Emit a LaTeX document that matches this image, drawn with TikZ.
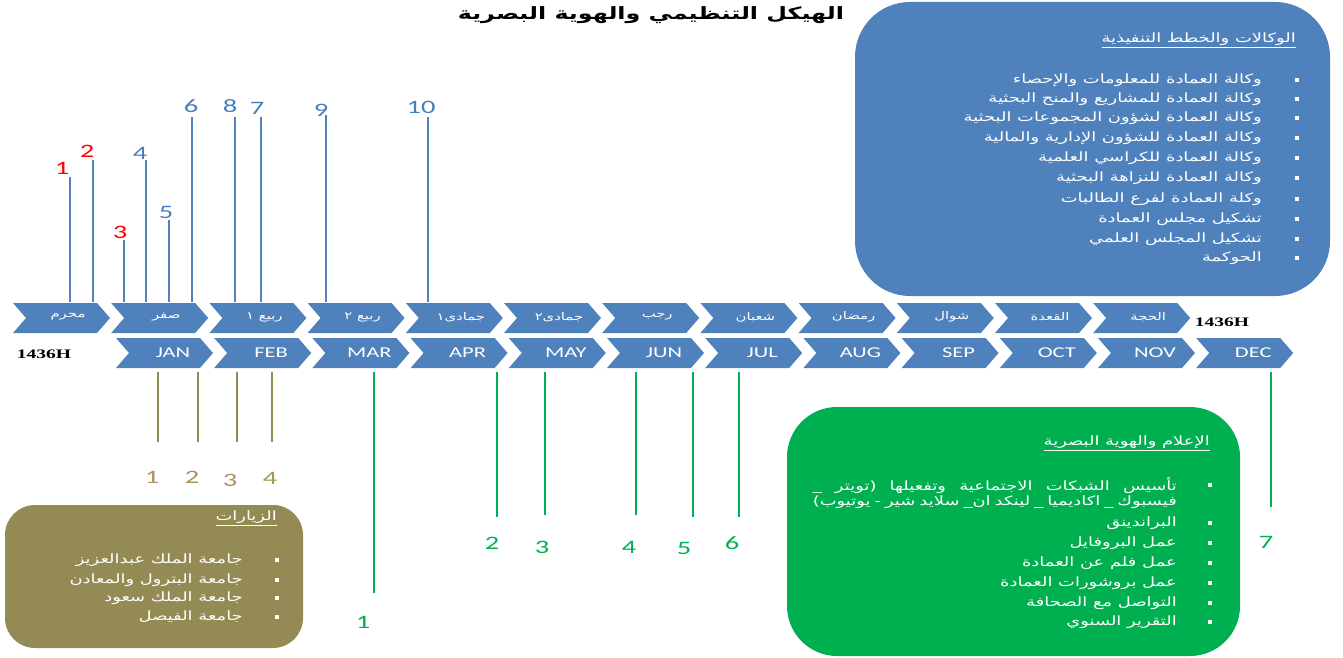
\documentclass[tikz,border=0pt]{standalone}
\usepackage{fontspec}
\setmainfont{Carlito}[FakeStretch=1.5]
\newfontfamily\ar[Script=Arabic,FakeStretch=1.4]{DejaVu Sans}
\newfontfamily\serifb{Liberation Serif}[FakeStretch=1.5]
\TeXXeTstate=1
\newcommand\AR[1]{{\ar\beginR #1\endR}}
\definecolor{chevblue}{HTML}{4F81BD}
\definecolor{numblue}{HTML}{4A7EBB}
\definecolor{olive}{HTML}{948A54}
\definecolor{olivetxt}{HTML}{A8935A}
\definecolor{grn}{HTML}{00B050}
\tikzset{
  chevfill/.style={fill=chevblue},
  hlabel/.style={text=white,font=\ar\fontsize{10.6}{12}\selectfont,inner sep=0pt},
  glabel/.style={text=white,font=\fontsize{15}{16}\selectfont,inner sep=0pt},
  num/.style={font=\fontsize{19}{20}\selectfont,inner sep=0pt},
  bluel/.style={draw=chevblue,line width=2pt},
  olivel/.style={draw=olive,line width=2pt},
  grnl/.style={draw=grn,line width=2pt},
  item/.style={text=white,anchor=east,inner sep=0pt,font=\ar\fontsize{12.8}{14}\selectfont},
  bul/.style={fill=white,minimum size=3.5pt,inner sep=0pt},
  yearlbl/.style={font=\serifb\bfseries\fontsize{13}{14}\selectfont,inner sep=0pt},
}
\begin{document}
\begin{tikzpicture}[x=1pt,y=-1pt]
\useasboundingbox (0,0) rectangle (1343,658);
% title
\node[font=\ar\bfseries\fontsize{17}{20}\selectfont,inner sep=0pt] (title) at (651,15) {\AR{الهيكل التنظيمي والهوية البصرية}};

% Hijri row
\foreach \t [count=\i from 0] in {محرم,صفر,ربيع ١,ربيع ٢,جمادى١,جمادى٢,رجب,شعبان,رمضان,شوال,القعدة,الحجة}{
  \pgfmathsetmacro\xx{13+98.2*\i}
  \fill[chevfill] (\xx,303) -- ++(84,0) -- ++(13,15) -- ++(-13,15) -- ++(-84,0) -- ++(13,-15) -- cycle;
  \node[hlabel] (h\i) at (\xx+55,317) {\AR{\t}};
}
% Gregorian row
\foreach \t [count=\i from 0] in {JAN,FEB,MAR,APR,MAY,JUN,JUL,AUG,SEP,OCT,NOV,DEC}{
  \pgfmathsetmacro\xx{116+98.2*\i}
  \fill[chevfill] (\xx,338) -- ++(84,0) -- ++(13,15) -- ++(-13,15) -- ++(-84,0) -- ++(13,-15) -- cycle;
  \node[glabel] (g\i) at (\xx+57,353) {\t};
}
\node[yearlbl] (yl) at (44,354) {1436H};
\node[yearlbl] (yr) at (1222,322) {1436H};

% top numbered lines
\foreach \n/\lx/\ty/\nx/\ny/\c in {1/70/177/62/168/red,2/93/160/87/151/red,3/124/240/120/232/red,4/146/160/140/153/numblue,5/169/220/166/212/numblue,6/192/117/191/106/numblue,8/235/117/230/106/numblue,7/261/117/257/108/numblue,9/326/115/321/110/numblue,10/428/117/421/107/numblue}{
  \coordinate (tt\n) at (\lx,\ty);
  \coordinate (tb\n) at (\lx,302);
  \draw[bluel] (tt\n) -- (tb\n);
  \node[num,text=\c] (tn\n) at (\nx,\ny) {\n};
}
% olive lines
\foreach \n/\lx/\nx/\ny in {1/158/152/477,2/198/192/477,3/237/230/480,4/272/270/478}{
  \coordinate (ot\n) at (\lx,372);
  \coordinate (ob\n) at (\lx,442);
  \draw[olivel] (ot\n) -- (ob\n);
  \node[num,text=olivetxt] (on\n) at (\nx,\ny) {\n};
}
% green lines
\foreach \n/\lx/\by/\nx/\ny in {1/374/593/363/622,2/497/517/492/543,3/545/515/542/547,4/636/515/629/547,5/693/517/684/548,6/739/517/732/543,7/1271/507/1266/542}{
  \coordinate (gt\n) at (\lx,372);
  \coordinate (gb\n) at (\lx,\by);
  \draw[grnl] (gt\n) -- (gb\n);
  \node[num,text=grn] (gn\n) at (\nx,\ny) {\n};
}

% blue box
\fill[chevblue,rounded corners=55pt] (855,2) rectangle (1330,296);
\node[item] (bt) at (1296,40) {\underline{\AR{الوكالات والخطط التنفيذية}}};
\foreach \t [count=\i] /\y in {وكالة العمادة للمعلومات والإحصاء/80,وكالة العمادة للمشاريع والمنح البحثية/99,وكالة العمادة لشؤون المجموعات البحثية/118,وكالة العمادة للشؤون الإدارية والمالية/138,وكالة العمادة للكراسي العلمية/158,وكالة العمادة للنزاهة البحثية/178,وكلة العمادة لفرع الطالبات/199,تشكيل مجلس العمادة/219,تشكيل المجلس العلمي/239,الحوكمة/258}{
  \node[item] (b\i) at (1262,\y) {\AR{\t}};
  \node[bul] (bb\i) at (1297,\y) {};
}

% green box
\fill[grn,rounded corners=50pt] (787,407) rectangle (1240,656);
\node[item] (gtit) at (1210,443) {\underline{\AR{الإعلام والهوية البصرية}}};
\node[item] (g1a) at (1177,485) {\ar\fontsize{12.8}{14}\selectfont\makebox[364pt][s]{\beginR تأسيس الشبكات الاجتماعية وتفعيلها (تويتر \_\endR}};
\node[item] (g1b) at (1177,502) {\ar\fontsize{12.8}{14}\selectfont\makebox[364pt][s]{\beginR فيسبوك \_ اكاديميا \_ لينكد ان\_ سلايد شير - يوتيوب)\endR}};
\node[bul] (gb0) at (1210,485) {};
\foreach \t [count=\i] /\y in {البراندينق/523,عمل البروفايل/543,عمل فلم عن العمادة/563,عمل بروشورات العمادة/583,التواصل مع الصحافة/603,التقرير السنوي/622}{
  \node[item] (gi\i) at (1177,\y) {\AR{\t}};
  \node[bul] (gbb\i) at (1210,\y) {};
}

% olive box
\fill[olive,rounded corners=30pt] (5,505) rectangle (303,648);
\node[item] (otit) at (277,518) {\underline{\AR{الزيارات}}};
\foreach \t [count=\i] /\y in {جامعة الملك عبدالعزيز/560,جامعة البترول والمعادن/580,جامعة الملك سعود/598,جامعة الفيصل/617}{
  \node[item] (oi\i) at (243,\y) {\AR{\t}};
  \node[bul] (obb\i) at (277,\y) {};
}
\end{tikzpicture}
\end{document}
